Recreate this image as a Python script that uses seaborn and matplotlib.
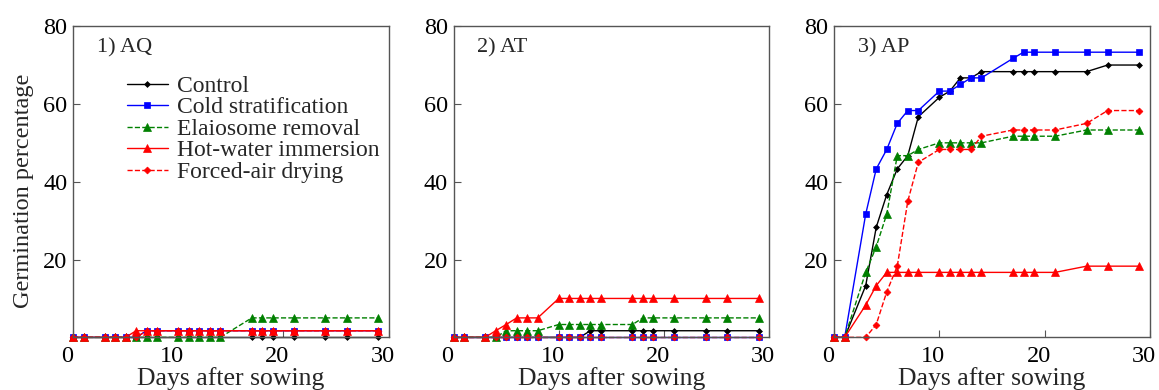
import numpy as np
import pandas as pd
import matplotlib
matplotlib.use("Agg")
import matplotlib.pyplot as plt
import matplotlib.transforms as mtransforms
import seaborn as sns

# days on which germination was counted
days = [0, 1, 3, 4, 5, 6, 7, 8, 10, 11, 12, 13, 14, 17, 18, 19, 21, 24, 26, 29]

treatments = ["Control", "Cold stratification", "Elaiosome removal",
              "Hot-water immersion", "Forced-air drying"]

panel_titles = ["1) AQ", "2) AT", "3) AP"]

# 1) AQ
aq_control = [0, 0, 0, 0, 0, 0, 0, 0, 0, 0, 0, 0, 0, 0, 0, 0, 0, 0, 0, 0]
aq_cold = [0, 0, 0, 0, 0, 0, 1.7, 1.7, 1.7, 1.7, 1.7, 1.7, 1.7, 1.7, 1.7, 1.7, 1.7, 1.7, 1.7, 1.7]
aq_elaio = [0, 0, 0, 0, 0, 0, 0, 0, 0, 0, 0, 0, 0, 5.0, 5.0, 5.0, 5.0, 5.0, 5.0, 5.0]
aq_hot = [0, 0, 0, 0, 0, 1.7, 1.7, 1.7, 1.7, 1.7, 1.7, 1.7, 1.7, 1.7, 1.7, 1.7, 1.7, 1.7, 1.7, 1.7]
aq_forced = [0, 0, 0, 0, 0, 0, 1.7, 1.7, 1.7, 1.7, 1.7, 1.7, 1.7, 1.7, 1.7, 1.7, 1.7, 1.7, 1.7, 1.7]

# 2) AT
at_control = [0, 0, 0, 0, 0, 0, 0, 0, 0, 0, 0, 1.7, 1.7, 1.7, 1.7, 1.7, 1.7, 1.7, 1.7, 1.7]
at_cold = [0, 0, 0, 0, 0, 0, 0, 0, 0, 0, 0, 0, 0, 0, 0, 0, 0, 0, 0, 0]
at_elaio = [0, 0, 0, 0, 1.7, 1.7, 1.7, 1.7, 3.3, 3.3, 3.3, 3.3, 3.3, 3.3, 5.0, 5.0, 5.0, 5.0, 5.0, 5.0]
at_hot = [0, 0, 0, 1.7, 3.3, 5.0, 5.0, 5.0, 10.0, 10.0, 10.0, 10.0, 10.0, 10.0, 10.0, 10.0, 10.0, 10.0, 10.0, 10.0]
at_forced = [0, 0, 0, 0, 0, 0, 0, 0, 0, 0, 0, 0, 0, 0, 0, 0, 0, 0, 0, 0]

# 3) AP
ap_control = [0, 0, 13.3, 28.3, 36.7, 43.3, 46.7, 56.7, 61.7, 63.3, 66.7, 66.7, 68.3, 68.3, 68.3, 68.3, 68.3, 68.3, 70.0, 70.0]
ap_cold = [0, 0, 31.7, 43.3, 48.3, 55.0, 58.3, 58.3, 63.3, 63.3, 65.0, 66.7, 66.7, 71.7, 73.3, 73.3, 73.3, 73.3, 73.3, 73.3]
ap_elaio = [0, 0, 16.7, 23.3, 31.7, 46.7, 46.7, 48.3, 50.0, 50.0, 50.0, 50.0, 50.0, 51.7, 51.7, 51.7, 51.7, 53.3, 53.3, 53.3]
ap_hot = [0, 0, 8.3, 13.3, 16.7, 16.7, 16.7, 16.7, 16.7, 16.7, 16.7, 16.7, 16.7, 16.7, 16.7, 16.7, 16.7, 18.3, 18.3, 18.3]
ap_forced = [0, 0, 0, 3.3, 11.7, 18.3, 35.0, 45.0, 48.3, 48.3, 48.3, 48.3, 51.7, 53.3, 53.3, 53.3, 53.3, 55.0, 58.3, 58.3]

panels = [
    [aq_control, aq_cold, aq_elaio, aq_hot, aq_forced],
    [at_control, at_cold, at_elaio, at_hot, at_forced],
    [ap_control, ap_cold, ap_elaio, ap_hot, ap_forced],
]

# line styles per treatment
styles = {
    "Control": dict(color="black", marker="D", markersize=3, linestyle="-"),
    "Cold stratification": dict(color="#0000ff", marker="s", markersize=5, linestyle="-"),
    "Elaiosome removal": dict(color="#008000", marker="^", markersize=5.5, linestyle="--"),
    "Hot-water immersion": dict(color="#ff0000", marker="^", markersize=5.5, linestyle="-"),
    "Forced-air drying": dict(color="#ff0000", marker="D", markersize=3.5, linestyle="--"),
}

sns.set_style("ticks")
plt.rcParams["font.family"] = ["Liberation Serif", "DejaVu Serif"]
plt.rcParams["axes.edgecolor"] = "#555555"
plt.rcParams["xtick.color"] = "#555555"
plt.rcParams["ytick.color"] = "#555555"
plt.rcParams["xtick.labelcolor"] = "black"
plt.rcParams["ytick.labelcolor"] = "black"
plt.rcParams["xtick.direction"] = "in"
plt.rcParams["ytick.direction"] = "in"

fig, axes = plt.subplots(1, 3, figsize=(11.59, 3.90), dpi=100)
fig.subplots_adjust(left=0.063, right=0.992, bottom=0.135, top=0.933, wspace=0.206)

# x tick labels sit a little left of their ticks in the original
shift_left = mtransforms.ScaledTranslation(-6 / 100, 0, fig.dpi_scale_trans)

for ax, series, title in zip(axes, panels, panel_titles):
    for name, vals in zip(treatments, series):
        df = pd.DataFrame({"day": days, "pct": vals})
        st = styles[name]
        sns.lineplot(data=df, x="day", y="pct", ax=ax, color=st["color"],
                     marker=st["marker"], markersize=st["markersize"],
                     linestyle=st["linestyle"], linewidth=1.0,
                     markeredgecolor=st["color"], markeredgewidth=0.5,
                     label=name, clip_on=False, legend=False)
    ax.set_xlim(0, 30)
    ax.set_ylim(0, 80)
    ax.set_xticks([0, 10, 20, 30])
    ax.set_yticks([20, 40, 60, 80])
    ax.tick_params(labelsize=17.5, length=5, width=0.8, pad=4)
    ax.tick_params(axis="x", pad=6)
    for lab in ax.get_xticklabels():
        lab.set_transform(lab.get_transform() + shift_left)
    for sp in ax.spines.values():
        sp.set_linewidth(1.0)
    ax.set_xlabel("Days after sowing", fontsize=18.5, labelpad=0)
    ax.set_ylabel("")
    ax.text(0.075, 0.93, title, transform=ax.transAxes, fontsize=16,
            ha="left", va="center")

axes[0].set_ylabel("Germination percentage", fontsize=17.5)
axes[0].yaxis.set_label_coords(-0.125, 0.47)
axes[0].legend(loc="upper left", bbox_to_anchor=(0.12, 0.895), frameon=False,
               fontsize=17, handlelength=1.7, handletextpad=0.4,
               labelspacing=0.0, borderpad=0.2)

fig.savefig("out.png", dpi=100)
